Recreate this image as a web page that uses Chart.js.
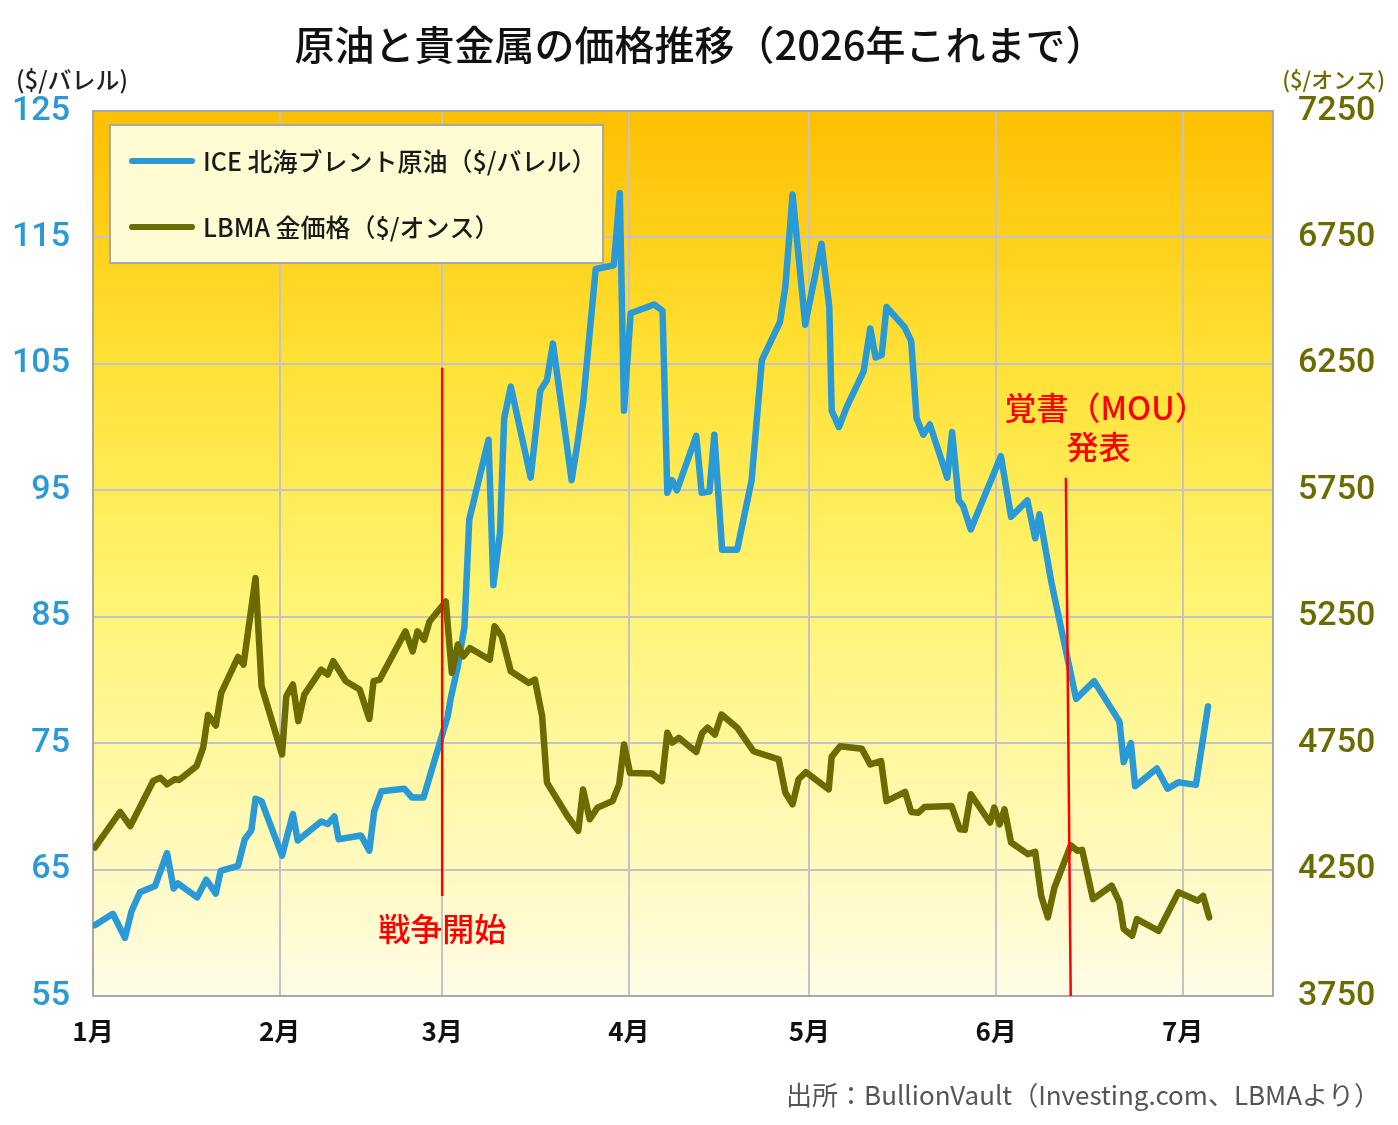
<!DOCTYPE html>
<html lang="ja">
<head>
<meta charset="utf-8">
<title>原油と貴金属の価格推移</title>
<script src="https://cdn.jsdelivr.net/npm/chart.js@4.4.1/dist/chart.umd.min.js"></script>
<style>
  html, body { margin: 0; padding: 0; background: #fff; }
  #wrap { width: 1398px; height: 1125px; }
</style>
</head>
<body>
<div id="wrap"><canvas id="chart" width="1398" height="1125"></canvas></div>
<script>
// ─── Texts ────────────────────────────────────────────────
const TITLE      = '原油と貴金属の価格推移（2026年これまで）';
const SOURCE     = '出所：BullionVault（Investing.com、LBMAより）';
const OIL_LABEL  = 'ICE 北海ブレント原油（$/バレル）';
const GOLD_LABEL = 'LBMA 金価格（$/オンス）';
const OIL_UNIT   = '($/バレル)';
const GOLD_UNIT  = '($/オンス)';

// ─── Data (x = day of year) ───────────────────────────────
const monthTicks  = [0, 31, 58, 89, 119, 150, 181];
const monthLabels = ['1月', '2月', '3月', '4月', '5月', '6月', '7月'];

const oilDays = [
  0.3, 3.3, 5.3, 6.4, 7.8, 10.3, 12.3, 13.4, 14.1, 17.3, 18.8, 20.4, 21.2, 24.1, 25.2, 26.3, 27.0, 28.0,
  31.4, 33.2, 34.0, 37.9, 39.0, 40.1, 40.8, 44.5, 45.9, 46.7, 47.9, 51.7, 53.0, 54.9,
  58.9, 59.4, 60.6, 61.7, 62.5, 65.7, 66.5, 67.6, 68.3, 69.4, 72.7, 74.3, 75.4, 76.4, 79.5, 80.5, 81.4,
  83.5, 86.5, 87.5, 88.2, 89.3, 93.2, 94.6, 95.4, 96.2, 97.0, 100.2, 101.1, 102.4, 103.2, 104.5, 107.0,
  109.4, 111.1, 114.1, 115.0, 116.2, 118.3, 121.0, 122.3, 122.7, 123.9, 125.2, 128.0, 129.1, 130.0,
  131.0, 131.8, 134.8, 135.9, 136.8, 137.9, 139.0, 141.9, 142.7, 143.8, 144.5, 145.8, 150.8, 152.5,
  155.2, 156.5, 157.2, 159.2, 163.3, 166.3, 170.5, 171.2, 172.4, 173.1, 176.7, 178.5, 180.3, 183.2, 185.2
];
const oilPrices = [
  60.6, 61.5, 59.6, 61.7, 63.2, 63.7, 66.3, 63.5, 63.9, 62.8, 64.2, 63.1, 64.9, 65.3, 67.4, 68.1, 70.6, 70.4,
  66.1, 69.4, 67.3, 68.8, 68.6, 69.2, 67.4, 67.7, 66.5, 69.6, 71.2, 71.4, 70.7, 70.7,
  77.1, 78.5, 81.1, 84.2, 92.7, 99.0, 87.5, 91.6, 100.7, 103.2, 96.0, 102.9, 103.7, 106.6, 95.8, 98.8, 101.9,
  112.5, 112.8, 118.5, 101.3, 109.0, 109.7, 109.2, 94.8, 95.8, 95.0, 99.3, 94.8, 94.9, 99.4, 90.3, 90.3,
  95.8, 105.3, 108.3, 111.1, 118.4, 108.1, 114.5, 109.5, 101.3, 100.0, 101.6, 104.4, 107.8, 105.5,
  105.7, 109.5, 107.9, 106.8, 100.7, 99.4, 100.2, 96.0, 99.6, 94.2, 93.8, 91.9, 97.7, 92.9,
  94.2, 91.2, 93.1, 87.7, 78.5, 79.9, 76.7, 73.5, 75.0, 71.6, 73.0, 71.4, 71.9, 71.7, 77.9
];

const goldDays = [
  0.3, 4.5, 6.2, 10.0, 11.2, 12.3, 13.6, 14.3, 17.2, 18.3, 19.1, 20.4, 21.3, 24.1, 25.0, 27.0, 28.0,
  31.4, 32.1, 33.2, 34.1, 35.1, 37.9, 39.0, 39.9, 42.0, 44.3, 45.9, 46.6, 47.6, 51.9, 53.1, 53.9, 55.0, 55.9,
  58.6, 59.6, 60.6, 61.5, 62.6, 65.9, 66.7, 67.9, 69.4, 72.4, 73.4, 74.6, 75.4, 78.8, 80.6, 81.4, 82.5,
  83.8, 86.3, 87.4, 88.2, 89.2, 92.8, 94.5, 95.4, 96.2, 97.3, 100.2, 101.2, 102.1, 103.3, 104.4, 107.0,
  109.7, 113.9, 115.0, 116.2, 117.2, 118.4, 122.2, 122.7, 124.1, 127.7, 129.1, 130.9, 131.8, 134.9,
  135.9, 137.1, 138.1, 142.6, 144.0, 144.8, 145.8, 149.0, 149.7, 150.6, 151.4, 152.5, 155.3, 156.5,
  157.5, 158.6, 159.7, 162.4, 163.5, 164.3, 166.1, 169.2, 170.5, 171.2, 172.6, 173.4, 177.0, 180.3,
  183.5, 184.4, 185.4
];
const goldPrices = [
  4337, 4478, 4422, 4600, 4613, 4587, 4607, 4604, 4659, 4732, 4861, 4820, 4949, 5091, 5061, 5403, 4975,
  4705, 4935, 4982, 4837, 4942, 5041, 5021, 5074, 4995, 4962, 4846, 4995, 5001, 5192, 5113, 5192, 5159, 5231,
  5310, 5028, 5140, 5093, 5126, 5080, 5212, 5172, 5034, 4988, 5001, 4857, 4594, 4462, 4403, 4567, 4449,
  4495, 4521, 4587, 4745, 4632, 4630, 4600, 4791, 4752, 4771, 4715, 4791, 4811, 4784, 4863, 4811,
  4718, 4686, 4554, 4508, 4607, 4635, 4567, 4696, 4738, 4728, 4666, 4679, 4521, 4557,
  4478, 4475, 4497, 4501, 4409, 4407, 4548, 4436, 4495, 4429, 4488, 4357, 4311, 4320,
  4146, 4061, 4179, 4346, 4324, 4328, 4133, 4186, 4120, 4015, 3988, 4054, 4008, 4160,
  4127, 4146, 4061
];

// event markers: x in days, y in $/barrel (left axis)
const eventLines = [
  { x1: 58.0, x2: 58.0, top: 104.7, bottom: 62.9 },
  { x1: 161.6, x2: 162.4, top: 96.0, bottom: 55 }
];
const eventTexts = [
  { text: '戦争開始', x: 58.0, y: 60.3 },
  { text: '覚書（MOU）', x: 168.2, y: 101.5 },
  { text: '発表', x: 167.0, y: 98.4 }
];

// ─── Styles ───────────────────────────────────────────────
const OIL_COLOR  = '#2A9AD6';
const GOLD_COLOR = '#6B6B00';
const GRID_COLOR = '#C4C4C8';
const NUM = "Roboto, 'Noto Sans', sans-serif";
const JP  = "'Noto Sans CJK JP', 'Noto Sans', sans-serif";

const toPoints = (xs, ys) => xs.map((x, i) => ({ x, y: ys[i] }));

// ─── Decorations plugin ───────────────────────────────────
const decor = {
  id: 'decor',
  beforeDraw(chart) {
    const { ctx, chartArea: a } = chart;
    ctx.save();
    ctx.fillStyle = '#fff';
    ctx.fillRect(0, 0, chart.width, chart.height);
    const g = ctx.createLinearGradient(0, a.top, 0, a.bottom);
    g.addColorStop(0, '#FDBF00');
    g.addColorStop(0.28, '#FFE135');
    g.addColorStop(0.55, '#FFF472');
    g.addColorStop(1, '#FFFCE6');
    ctx.fillStyle = g;
    ctx.fillRect(a.left, a.top, a.right - a.left, a.bottom - a.top);
    ctx.restore();
  },
  afterDatasetsDraw(chart) {
    const { ctx } = chart;
    const xs = chart.scales.x, ys = chart.scales.y;
    ctx.save();
    ctx.strokeStyle = '#FF0000';
    ctx.lineWidth = 2.5;
    eventLines.forEach(l => {
      ctx.beginPath();
      ctx.moveTo(xs.getPixelForValue(l.x1), ys.getPixelForValue(l.top));
      ctx.lineTo(xs.getPixelForValue(l.x2), ys.getPixelForValue(l.bottom));
      ctx.stroke();
    });
    ctx.fillStyle = '#FF0000';
    ctx.font = `500 32px ${JP}`;
    ctx.textAlign = 'center';
    ctx.textBaseline = 'middle';
    eventTexts.forEach(t => {
      ctx.fillText(t.text, xs.getPixelForValue(t.x), ys.getPixelForValue(t.y));
    });
    ctx.restore();
  },
  afterDraw(chart) {
    const { ctx, chartArea: a } = chart;
    ctx.save();
    // top frame line
    ctx.strokeStyle = '#A8A8A8';
    ctx.lineWidth = 2;
    ctx.beginPath();
    ctx.moveTo(a.left, a.top);
    ctx.lineTo(a.right, a.top);
    ctx.stroke();

    // title
    ctx.fillStyle = '#111';
    ctx.font = `500 40px ${JP}`;
    ctx.textAlign = 'center';
    ctx.textBaseline = 'middle';
    ctx.fillText(TITLE, 700, 45);

    // axis units
    ctx.font = `500 24px ${JP}`;
    ctx.textAlign = 'left';
    ctx.fillStyle = '#222';
    ctx.fillText(OIL_UNIT, 16, 80);
    ctx.font = `500 22px ${JP}`;
    ctx.textAlign = 'right';
    ctx.fillStyle = GOLD_COLOR;
    ctx.fillText(GOLD_UNIT, 1385, 80);
    ctx.textAlign = 'left';

    // legend
    const lx = 110, ly = 125, lw = 493, lh = 138;
    ctx.fillStyle = '#FFFBD2';
    ctx.fillRect(lx, ly, lw, lh);
    ctx.strokeStyle = '#A8A8A8';
    ctx.lineWidth = 2;
    ctx.strokeRect(lx, ly, lw, lh);
    chart.data.datasets.forEach((ds, i) => {
      const y = ly + 36 + i * 66;
      ctx.strokeStyle = ds.borderColor;
      ctx.lineWidth = 6;
      ctx.lineCap = 'round';
      ctx.beginPath();
      ctx.moveTo(lx + 22, y);
      ctx.lineTo(lx + 82, y);
      ctx.stroke();
      ctx.fillStyle = '#1a1a1a';
      ctx.font = `500 25px ${JP}`;
      ctx.fillText(ds.label, lx + 93, y);
    });

    // source
    ctx.fillStyle = '#555';
    ctx.font = `400 26px ${JP}`;
    ctx.textAlign = 'right';
    ctx.fillText(SOURCE, 1380, 1095);
    ctx.restore();
  }
};

// ─── Chart ────────────────────────────────────────────────
new Chart(document.getElementById('chart'), {
  type: 'line',
  data: {
    datasets: [
      {
        label: OIL_LABEL,
        data: toPoints(oilDays, oilPrices),
        yAxisID: 'y',
        borderColor: OIL_COLOR,
        borderWidth: 6.5,
        order: 1,
      },
      {
        label: GOLD_LABEL,
        data: toPoints(goldDays, goldPrices),
        yAxisID: 'y2',
        borderColor: GOLD_COLOR,
        borderWidth: 6.5,
        order: 0,
      },
    ],
  },
  options: {
    responsive: false,
    animation: false,
    devicePixelRatio: 1,
    layout: { padding: { top: 111, left: 0, right: 0, bottom: 0 } },
    elements: {
      point: { radius: 0 },
      line: { tension: 0, borderJoinStyle: 'round', borderCapStyle: 'round' },
    },
    plugins: {
      legend: { display: false },
      title: { display: false },
      tooltip: { enabled: false },
    },
    scales: {
      x: {
        type: 'linear',
        min: 0, max: 196,
        afterBuildTicks: s => { s.ticks = monthTicks.map(v => ({ value: v })); },
        afterFit: s => { s.height = 129; },
        grid: { color: GRID_COLOR, lineWidth: 2, drawTicks: false },
        border: { color: '#A8A8A8', width: 2 },
        ticks: {
          padding: 20,
          color: '#111',
          font: { family: JP, size: 26, weight: 'bold' },
          callback: (v) => monthLabels[monthTicks.indexOf(v)] ?? '',
        },
      },
      y: {
        position: 'left',
        min: 55, max: 125,
        afterFit: s => { s.width = 93; },
        grid: { color: GRID_COLOR, lineWidth: 2, drawTicks: false },
        border: { color: '#A8A8A8', width: 2 },
        ticks: {
          stepSize: 10, padding: 23,
          color: OIL_COLOR,
          font: { family: NUM, size: 34, weight: 500 },
          callback: v => String(v),
        },
      },
      y2: {
        position: 'right',
        min: 3750, max: 7250,
        afterFit: s => { s.width = 125; },
        grid: { drawOnChartArea: false, drawTicks: false },
        border: { color: '#A8A8A8', width: 2 },
        ticks: {
          stepSize: 500, padding: 25,
          color: GOLD_COLOR,
          font: { family: NUM, size: 34, weight: 500 },
          callback: v => String(v),
        },
      },
    },
  },
  plugins: [decor],
});
</script>
</body>
</html>
